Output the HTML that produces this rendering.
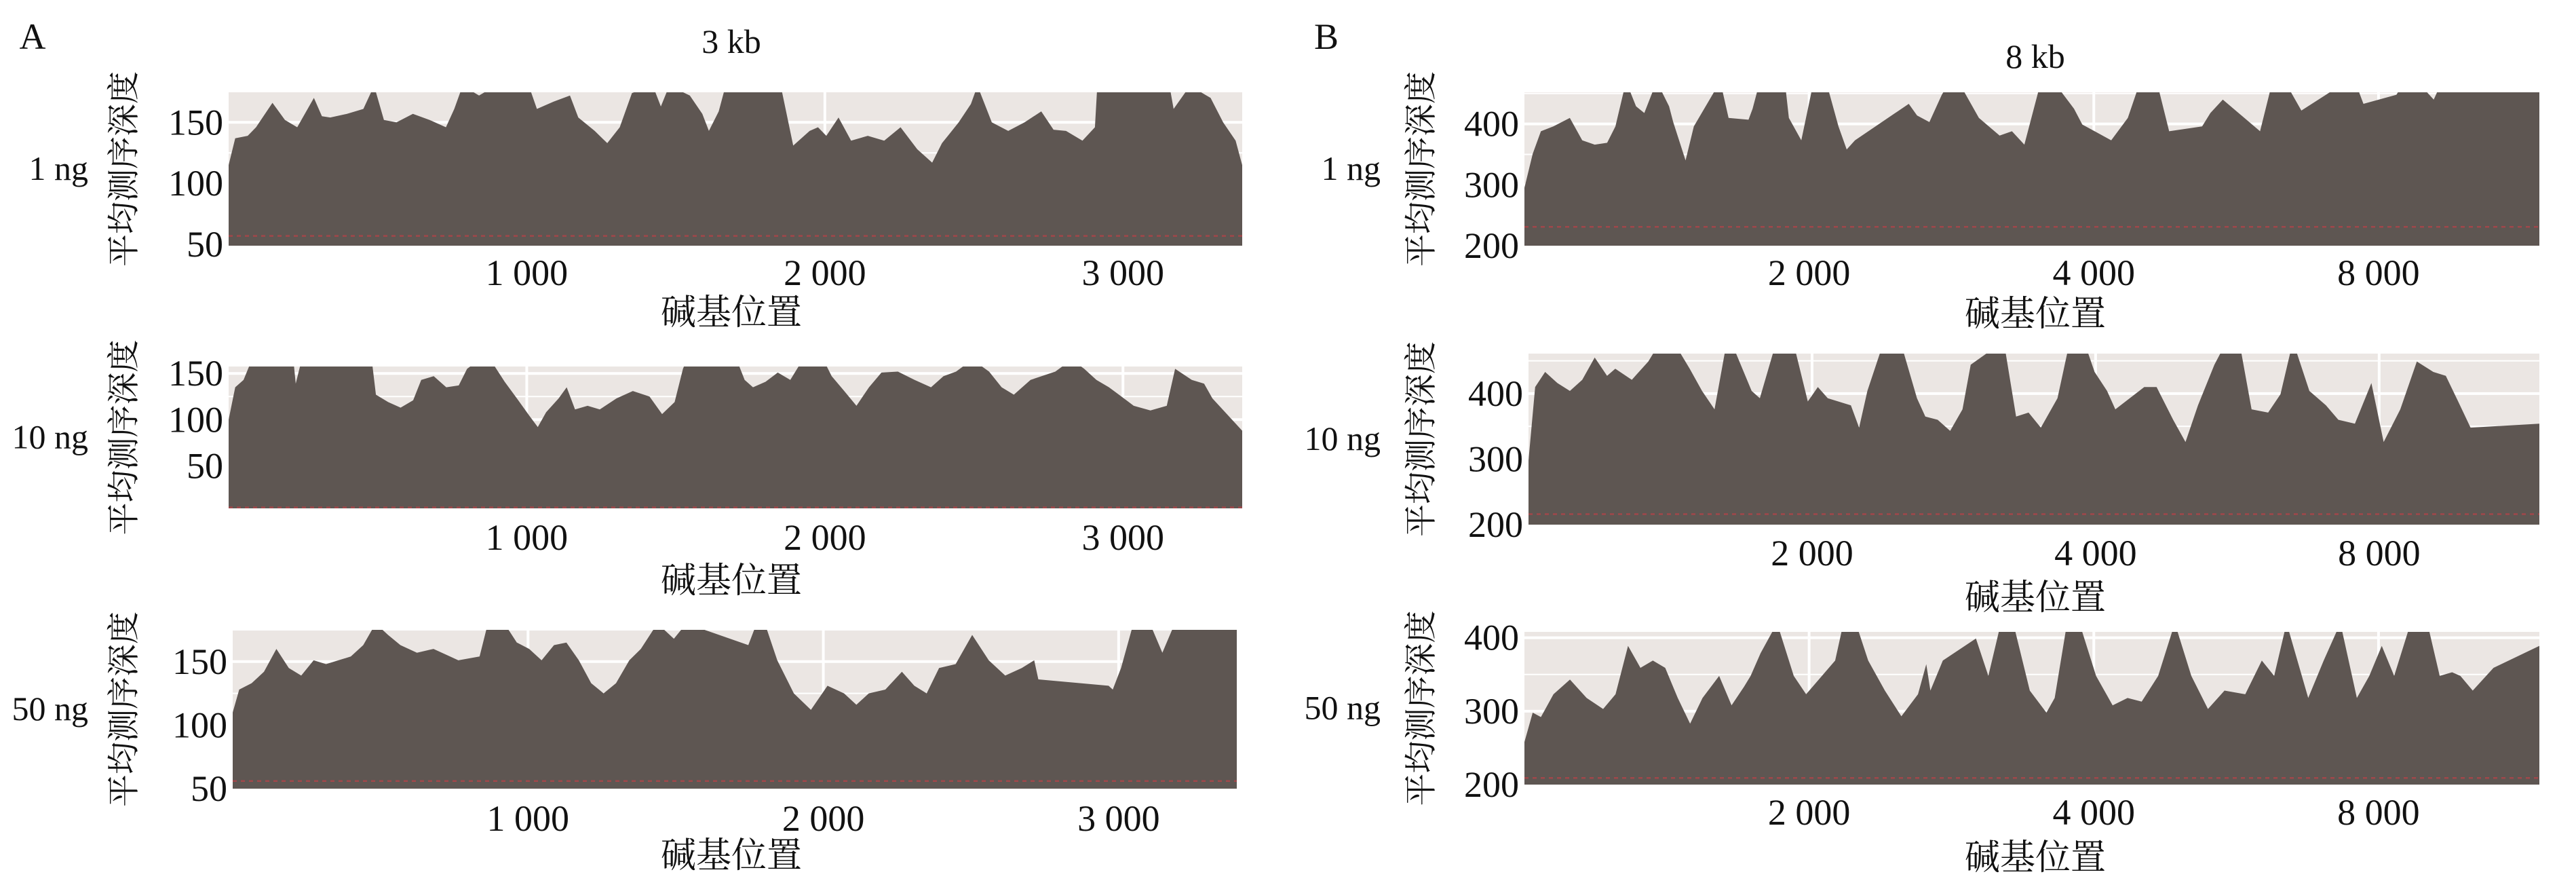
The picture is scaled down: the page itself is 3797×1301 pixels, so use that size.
<!DOCTYPE html>
<html><head><meta charset="utf-8">
<style>
html,body{margin:0;padding:0;background:#fff;}
svg{display:block;}
text{font-family:"Liberation Serif","Noto Serif CJK SC",serif;fill:#111;}
</style></head>
<body>
<svg id="fig" width="3797" height="1301" viewBox="0 0 3797 1301" xmlns="http://www.w3.org/2000/svg">
<text x="48" y="72" font-size="54" text-anchor="middle">A</text>
<text x="1955" y="72" font-size="54" text-anchor="middle">B</text>
<text x="1078" y="78" font-size="50" text-anchor="middle">3 kb</text>
<text x="3000" y="100" font-size="50" text-anchor="middle">8 kb</text>
</svg>
<script>
// ---- data (position along genome, mean depth) ----
const a1Pos=[0,22,64,92,147,189,230,286,313,341,397,452,488,521,563,618,674,729,757,785,840,896,1007,1034,1090,1145,1173,1228,1270,1312,1353,1423,1450,1478,1547,1589,1611,1644,1667,1852,1894,1949,1977,2005,2046,2088,2144,2199,2254,2310,2360,2393,2449,2490,2512,2560,2615,2670,2726,2767,2809,2864,2906,2914,3156,3170,3225,3294,3336,3378,3400];
const a1Val=[115,137,139,146,166,152,146,170,155,154,157,161,180,152,150,157,152,146,161,180,172,180,180,161,167,172,154,143,133,146,174,180,163,180,172,157,143,159,180,180,131,143,146,139,154,135,139,135,146,128,117,133,150,165,180,150,143,150,159,144,143,135,146,180,180,161,180,170,150,135,115];
const a2Pos=[0,22,50,78,217,225,245,480,494,535,577,619,646,688,730,772,800,842,884,926,967,1009,1037,1065,1107,1134,1162,1204,1245,1301,1356,1412,1454,1496,1524,1537,1704,1731,1759,1801,1842,1884,1926,1995,2023,2065,2106,2148,2190,2245,2301,2356,2398,2440,2495,2551,2593,2634,2690,2773,2828,2870,2911,2953,2995,3036,3092,3147,3175,3231,3272,3300,3400];
const a2Val=[100,135,143,165,165,139,165,165,127,119,113,121,143,147,135,137,155,165,162,141,123,104,92,108,123,135,111,115,111,123,131,125,106,119,155,165,165,143,135,141,151,143,165,165,147,131,115,135,151,152,143,135,147,152,165,152,135,127,143,152,165,155,143,135,125,115,110,115,155,143,139,123,88];
const a3Pos=[0,22,64,106,148,190,232,274,316,358,400,442,484,526,568,624,680,736,764,836,864,920,962,1004,1046,1088,1130,1172,1214,1256,1298,1343,1382,1438,1494,1536,1746,1774,1802,1844,1900,1958,2014,2070,2112,2154,2210,2266,2308,2350,2392,2448,2504,2560,2616,2672,2714,2728,2966,2980,3008,3050,3106,3148,3190,3400];
const a3Val=[110,128,133,142,160,145,139,151,148,151,154,163,180,171,163,157,160,154,151,154,180,180,165,160,151,163,165,151,133,125,133,151,160,180,168,180,163,180,180,151,125,112,131,125,116,125,128,142,131,125,145,148,171,151,139,145,151,136,131,128,145,180,180,157,180,180,154,139,125,104];
const b1Pos=[0,58,116,203,319,406,494,581,639,714,784,842,929,1016,1045,1132,1190,1376,1434,1574,1603,1654,1829,1858,1945,2032,2119,2206,2264,2322,2700,2758,2845,2932,2990,3048,3193,3338,3425,3512,3629,3716,3861,3919,4006,4122,4239,4326,4442,4529,4761,4819,4906,5168,5255,5342,5458,5777,5835,5894,6126,6184,6271,6388,6446,7130];
const b1Val=[295,351,388,396,410,373,366,369,396,470,429,418,470,429,403,340,396,470,410,407,425,470,470,410,373,470,470,396,358,373,433,414,403,448,470,470,410,381,388,366,470,470,425,399,388,373,410,470,470,388,396,418,440,388,470,470,422,470,470,433,448,470,470,440,470,470,414,448,470,422,299];
const b2Pos=[0,47,117,204,292,379,467,554,612,729,845,932,1020,1137,1224,1312,1399,1428,1574,1632,1749,1866,1970,2041,2111,2274,2332,2390,2507,2623,2740,2799,2886,2974,3061,3119,3352,3439,3527,3614,3731,3818,3918,3993,4081,4139,4343,4430,4547,4634,4722,4838,4925,5013,5100,5217,5304,5392,5508,5625,5712,5829,5945,6032,6149,6266,6382,6470,6557,6645,7130];
const b2Val=[298,410,433,416,404,421,455,427,438,421,449,480,480,438,404,376,480,480,404,393,480,480,388,410,393,382,348,404,480,480,393,365,360,343,376,444,480,365,371,348,393,480,480,433,404,376,410,410,360,326,382,444,480,480,376,371,399,480,404,382,360,354,416,326,376,449,433,427,388,348,354,376,382,348,309,292];
const b3Pos=[0,58,116,204,320,437,553,640,728,815,902,989,1077,1164,1251,1368,1455,1542,1589,1659,1775,1892,1979,2183,2241,2328,2415,2532,2648,2765,2823,2852,2939,3172,3259,3347,3434,3550,3667,3725,3812,3899,4016,4132,4237,4336,4452,4569,4685,4802,4918,5064,5180,5267,5354,5506,5615,5732,5848,5935,6023,6110,6226,6343,6430,6517,6575,6662,6808,7130];
const b3Val=[258,298,292,323,343,318,303,323,389,359,369,359,318,283,318,348,308,333,348,379,420,348,323,369,420,420,369,328,293,323,364,328,369,399,348,420,420,328,298,318,420,420,348,308,318,313,348,420,348,303,328,323,369,348,420,318,369,420,318,348,389,348,420,420,348,353,348,328,359,389,364,273];
// tick labels
const a1YTicks=[50,100,150], a2YTicks=[50,100,150], a3YTicks=[50,100,150];
const b1YTicks=[200,300,400], b2YTicks=[200,300,400], b3YTicks=[200,300,400];
const aXTickVals=[1000,2000,3000], aXTickLabels=["1 000","2 000","3 000"];
const bXTickVals=[2000,4000,6000], bXTickLabels=["2 000","4 000","8 000"];
const rowLabels=["1 ng","10 ng","50 ng"];
const redLineA=[57,5,56], redLineB=[231,216,209];

const NS="http://www.w3.org/2000/svg";
const svg=document.getElementById('fig');
function mk(tag,attrs,parent){const e=document.createElementNS(NS,tag);for(const k in attrs)e.setAttribute(k,attrs[k]);(parent||svg).appendChild(e);return e;}

const panels=[
 {id:'a1',pos:a1Pos,val:a1Val,yt:a1YTicks,xt:aXTickVals,xl:aXTickLabels,x0:337,x1:1831,y0:136,y1:362,xmin:0,xmax:3400,ymin:49,ymax:174.6,red:redLineA[0],row:0,side:'a',tickY:420,xlabY:478,ylabX:183,rowX:130},
 {id:'a2',pos:a2Pos,val:a2Val,yt:a2YTicks,xt:aXTickVals,xl:aXTickLabels,x0:337,x1:1831,y0:540,y1:749,xmin:0,xmax:3400,ymin:4,ymax:157.5,red:redLineA[1],row:1,side:'a',tickY:810,xlabY:873,ylabX:183,rowX:130},
 {id:'a3',pos:a3Pos,val:a3Val,yt:a3YTicks,xt:aXTickVals,xl:aXTickLabels,x0:343,x1:1823,y0:928,y1:1162,xmin:0,xmax:3400,ymin:50,ymax:175,red:redLineA[2],row:2,side:'a',tickY:1224,xlabY:1278,ylabX:183,rowX:130},
 {id:'b1',pos:b1Pos,val:b1Val,yt:b1YTicks,xt:bXTickVals,xl:bXTickLabels,x0:2247,x1:3743,y0:136,y1:362,xmin:0,xmax:7130,ymin:200,ymax:452,red:redLineB[0],row:0,side:'b',tickY:420,xlabY:480,ylabX:2095,rowX:2035},
 {id:'b2',pos:b2Pos,val:b2Val,yt:b2YTicks,xt:bXTickVals,xl:bXTickLabels,x0:2253,x1:3743,y0:521,y1:773,xmin:0,xmax:7130,ymin:200,ymax:461,red:redLineB[1],row:1,side:'b',tickY:833,xlabY:898,ylabX:2095,rowX:2035},
 {id:'b3',pos:b3Pos,val:b3Val,yt:b3YTicks,xt:bXTickVals,xl:bXTickLabels,x0:2247,x1:3743,y0:931,y1:1156,xmin:0,xmax:7130,ymin:200,ymax:408,red:redLineB[2],row:2,side:'b',tickY:1215,xlabY:1281,ylabX:2095,rowX:2035}
];

panels.forEach(p=>{
 const xs=v=>p.x0+(v-p.xmin)/(p.xmax-p.xmin)*(p.x1-p.x0);
 const ys=v=>p.y1-(v-p.ymin)/(p.ymax-p.ymin)*(p.y1-p.y0);
 const g=mk('g',{});
 
 
 const cp=mk('clipPath',{id:'clip-'+p.id},g);
 mk('rect',{x:p.x0,y:p.y0,width:p.x1-p.x0,height:p.y1-p.y0},cp);
 const bg=mk('rect',{x:p.x0,y:p.y0,width:p.x1-p.x0,height:p.y1-p.y0,fill:'#ebe6e3'},g);
 
 
 // gridlines
 const step=p.yt[1]-p.yt[0];
 for(let v=p.yt[0]-step/2;v<=p.ymax+step;v+=step/2){
  if(v<p.ymin||v>p.ymax)continue;
  const ln=mk('line',{x1:p.x0,x2:p.x1,y1:ys(v),y2:ys(v),stroke:'#fff','stroke-width':(Math.abs((v-p.yt[0])%step)<1e-6?4:2)},g);
  
  
 }
 p.xt.forEach(v=>{
  const ln=mk('line',{x1:xs(v),x2:xs(v),y1:p.y0,y2:p.y1,stroke:'#fff','stroke-width':4},g);
  
  
 });
 // area
 let d='M'+xs(p.pos[0])+','+p.y1;
 p.pos.forEach((x,i)=>{d+=' L'+xs(x).toFixed(1)+','+ys(p.val[i]).toFixed(1);});
 d+=' L'+xs(p.pos[p.pos.length-1])+','+p.y1+' Z';
 const ar=mk('path',{d:d,fill:'#5e5652','clip-path':'url(#clip-'+p.id+')'},g);
 
 
 const rl=mk('line',{x1:p.x0,x2:p.x1,y1:ys(p.red),y2:ys(p.red),stroke:'#a0474a','stroke-width':2.5,'stroke-dasharray':'6 6'},g);
 
 
 // y ticks
 p.yt.forEach(v=>{
  const t=mk('text',{x:p.x0-8,y:ys(v)+18,'font-size':54,'text-anchor':'end'},g);
  t.textContent=v;
  
  
 });
 p.xt.forEach((v,i)=>{
  const t=mk('text',{x:xs(v),y:p.tickY,'font-size':54,'text-anchor':'middle'},g);
  t.textContent=p.xl[i];
  
  
 });
 const xl=mk('text',{x:(p.side==='a'?1078:3000),y:p.xlabY,'font-size':52,'text-anchor':'middle'},g);
 xl.textContent='碱基位置';
 
 
 const yc=(p.y0+p.y1)/2+ (p.row===0?0:0);
 const yl=mk('text',{x:p.ylabX,y:yc,'font-size':48,'text-anchor':'middle','dominant-baseline':'central',transform:'rotate(-90 '+p.ylabX+' '+yc+')'},g);
 yl.textContent='平均测序深度';
 
 
 const rlb=mk('text',{x:p.rowX,y:yc+16,'font-size':50,'text-anchor':'end'},g);
 rlb.textContent=rowLabels[p.row];
 
 
});
</script>
</body></html>
